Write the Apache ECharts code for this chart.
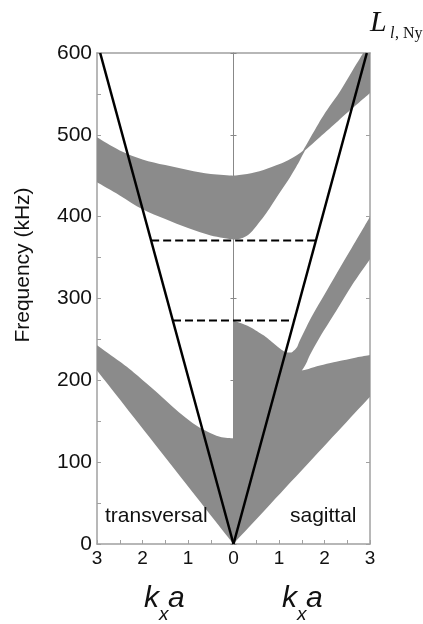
<!DOCTYPE html>
<html>
<head>
<meta charset="utf-8">
<script src="https://cdn.jsdelivr.net/npm/echarts@6/dist/echarts.min.js"></script>
<style>
html,body{margin:0;padding:0;background:#fff;}
#chart{width:423px;height:624px;}
</style>
</head>
<body>
<div id="chart"></div>
<script>
// ---- data: [kx (magnitude), frequency kHz] ----
var xTicks = [3, 2, 1, 0, 1, 2, 3];
var yTicks = [0, 100, 200, 300, 400, 500, 600];

// transversal (left half; kx plotted negative)
var transUpperBandTop = [[3,497],[2.5,481],[2.0,470],[1.5,463],[1.0,457],[0.5,452],[0,450]];
var transUpperBandBottom = [[0,372],[0.5,377],[1.0,386],[1.5,397],[2.0,409],[2.5,426],[3,442]];
var transLowerBandTop = [[3,243],[2.5,223],[2.2,210],[1.8,191],[1.5,176],[1.2,161],[0.9,148],[0.6,138],[0.3,131],[0,129]];
var transLowerBandBottom = [[0,0],[3,212]];

// sagittal (right half)
var sagUpperTopA = [[0,450],[0.3,452],[0.66,457],[1.0,464],[1.2,469],[1.39,475],[1.53,481]];
var sagUpperTopB = [[1.53,481],[1.87,514],[2.1,534],[2.34,553],[2.6,577],[2.85,600]];
var sagUpperCorner = [[3,600],[3,551]];
var sagUpperBottomB = [[3,551],[2.3,517],[1.57,481]];
var sagUpperBottomA = [[1.57,481],[1.4,463],[1.24,448],[1.0,428],[0.73,405],[0.55,392],[0.37,380],[0.2,374],[0,372]];

var sagLowerBase = [[0,0],[3,180]];
var sagLowerTopRight = [[3,231],[2.7,228],[2.41,224.5],[2.2,222],[1.9,218],[1.65,214],[1.5,212]];
var sagDiagLower = [[1.5,212],[1.55,216],[1.61,222],[1.68,231],[1.9,253],[2.27,286],[2.6,316],[3,348]];
var sagDiagUpper = [[3,400],[2.6,362],[2.27,331],[2.0,305],[1.76,282],[1.6,265],[1.46,249],[1.39,240],[1.3,235],[1.24,234],
  [1.13,235],[1.02,239],[0.8,249],[0.66,255],[0.37,265],[0.15,270],[0,273]];

// light lines L_{l,Ny}
var leftLightLine = [[-2.93,600],[0,0]];
var rightLightLine = [[0,0],[2.93,600]];
// dashed gap markers
var upperGapLine = [[-1.81,371],[1.81,371]];
var lowerGapLine = [[-1.33,273],[1.33,273]];

// ---- build ----
function neg(arr){ return arr.map(function(p){ return [-p[0], p[1]]; }); }
var regions = [
  [neg(transUpperBandTop), neg(transUpperBandBottom)],
  [neg(transLowerBandTop), neg(transLowerBandBottom)],
  [sagUpperTopA, sagUpperTopB, sagUpperCorner, sagUpperBottomB, sagUpperBottomA],
  [sagLowerBase, sagLowerTopRight, sagDiagLower, sagDiagUpper]
];

var FILL = '#8b8b8b';
var AXIS = '#a0a0a0';
var FONT = "'Liberation Sans', Arial, Helvetica, sans-serif";

// smooth (Catmull-Rom -> cubic Bezier) path through each edge's projected points
function edgesToPath(edges, api){
  var d = '';
  edges.forEach(function(edge, ei){
    var P = edge.map(function(p){ return api.coord(p); });
    d += (ei === 0 ? 'M' : 'L') + P[0][0].toFixed(2) + ' ' + P[0][1].toFixed(2) + ' ';
    for (var i = 0; i < P.length - 1; i++){
      var p0 = P[i - 1] || P[i], p1 = P[i], p2 = P[i + 1], p3 = P[i + 2] || P[i + 1];
      var c1x = p1[0] + (p2[0] - p0[0]) / 6, c1y = p1[1] + (p2[1] - p0[1]) / 6;
      var c2x = p2[0] - (p3[0] - p1[0]) / 6, c2y = p2[1] - (p3[1] - p1[1]) / 6;
      d += 'C' + c1x.toFixed(2) + ' ' + c1y.toFixed(2) + ' ' + c2x.toFixed(2) + ' ' + c2y.toFixed(2) + ' ' + p2[0].toFixed(2) + ' ' + p2[1].toFixed(2) + ' ';
    }
  });
  return d + 'Z';
}

function regionSeries(edges){
  return {
    type: 'custom', xAxisIndex: 0, yAxisIndex: 0, z: 1, silent: true,
    data: [[edges[0][0][0], edges[0][0][1]]],
    renderItem: function(params, api){
      return {
        type: 'path',
        shape: { pathData: edgesToPath(edges, api) },
        style: { fill: FILL, stroke: null }
      };
    }
  };
}

var series = regions.map(regionSeries);
function lineSeries(d, dashed){
  return {
    type: 'line', xAxisIndex: 0, yAxisIndex: 0, z: 5, silent: true,
    data: d, symbol: 'none', animation: false,
    lineStyle: { color: '#000', width: dashed ? 2 : 2.5, type: dashed ? [8,4] : 'solid' }
  };
}
series.push(lineSeries(leftLightLine, false));
series.push(lineSeries(rightLightLine, false));
series.push(lineSeries(upperGapLine, true));
series.push(lineSeries(lowerGapLine, true));

var chart = echarts.init(document.getElementById('chart'), null, {renderer: 'canvas'});
chart.setOption({
  animation: false,
  backgroundColor: '#fff',
  grid: { left: 97, right: 53, top: 53, bottom: 80, containLabel: false },
  xAxis: [
    {
      type: 'value', min: -3, max: 3, interval: 0.5, position: 'bottom',
      axisLine: { onZero: false, lineStyle: { color: AXIS, width: 1.5 } },
      axisTick: { inside: true, length: 4, lineStyle: { color: AXIS } },
      splitLine: { show: false },
      axisLabel: {
        color: '#111', fontSize: 19, fontFamily: FONT, margin: 5,
        formatter: function(v){
          var a = Math.abs(v);
          if (a % 1 !== 0) return '';
          var i = xTicks.indexOf(a);
          return i >= 0 ? String(xTicks[i]) : '';
        }
      }
    },
    {
      type: 'value', min: -3, max: 3, position: 'top',
      axisLine: { onZero: false, lineStyle: { color: AXIS, width: 1.5 } },
      axisTick: { show: false }, axisLabel: { show: false }, splitLine: { show: false }
    }
  ],
  yAxis: [
    {
      type: 'value', min: 0, max: 600, interval: 50, position: 'left',
      axisLine: { show: true, onZero: false, lineStyle: { color: AXIS, width: 1.5 } },
      axisTick: { inside: true, length: 4, lineStyle: { color: AXIS } },
      splitLine: { show: false },
      axisLabel: {
        color: '#111', fontSize: 21, fontFamily: FONT, margin: 5,
        formatter: function(v){ return yTicks.indexOf(v) >= 0 ? String(v) : ''; }
      }
    },
    {
      type: 'value', min: 0, max: 600, interval: 100, position: 'right',
      axisLine: { show: true, onZero: false, lineStyle: { color: AXIS, width: 1.5 } },
      axisTick: { inside: true, length: 4, lineStyle: { color: AXIS } },
      axisLabel: { show: false }, splitLine: { show: false }
    },
    {
      type: 'value', min: 0, max: 600, interval: 100, position: 'left',
      axisLine: { show: true, onZero: true, onZeroAxisIndex: 0, lineStyle: { color: '#888', width: 1 } },
      axisTick: { inside: true, length: 3, lineStyle: { color: '#888' } },
      axisLabel: { show: false }, splitLine: { show: false }
    },
    {
      type: 'value', min: 0, max: 600, interval: 100, position: 'left',
      axisLine: { show: true, onZero: true, onZeroAxisIndex: 0, lineStyle: { color: '#888', width: 1 } },
      axisTick: { inside: false, length: 3, lineStyle: { color: '#888' } },
      axisLabel: { show: false }, splitLine: { show: false }
    }
  ],
  graphic: [
    { type: 'text', z: 10, x: 23, y: 265, rotation: Math.PI / 2,
      style: { x: 0, y: 0, text: 'Frequency (kHz)', font: '21px ' + FONT, fill: '#111', textAlign: 'center', textVerticalAlign: 'middle' } },
    { type: 'text', z: 10, style: { x: 105, y: 527, text: 'transversal', font: '21px ' + FONT, fill: '#111', textVerticalAlign: 'bottom' } },
    { type: 'text', z: 10, style: { x: 290, y: 527, text: 'sagittal', font: '21px ' + FONT, fill: '#111', textVerticalAlign: 'bottom' } },
    { type: 'text', z: 10, style: { x: 144, y: 614, text: 'k', font: 'italic 30px ' + FONT, fill: '#111', textVerticalAlign: 'bottom' } },
    { type: 'text', z: 10, style: { x: 159, y: 624, text: 'x', font: 'italic 19px ' + FONT, fill: '#111', textVerticalAlign: 'bottom' } },
    { type: 'text', z: 10, style: { x: 168, y: 614, text: 'a', font: 'italic 30px ' + FONT, fill: '#111', textVerticalAlign: 'bottom' } },
    { type: 'text', z: 10, style: { x: 282, y: 614, text: 'k', font: 'italic 30px ' + FONT, fill: '#111', textVerticalAlign: 'bottom' } },
    { type: 'text', z: 10, style: { x: 297, y: 624, text: 'x', font: 'italic 19px ' + FONT, fill: '#111', textVerticalAlign: 'bottom' } },
    { type: 'text', z: 10, style: { x: 306, y: 614, text: 'a', font: 'italic 30px ' + FONT, fill: '#111', textVerticalAlign: 'bottom' } },
    { type: 'text', z: 10, style: { x: 370, y: 38, text: 'L', font: 'italic 30px "Liberation Serif", "Times New Roman", serif', fill: '#111', textVerticalAlign: 'bottom' } },
    { type: 'text', z: 10, style: { x: 390, y: 42, text: 'l', font: 'italic 16px "Liberation Serif", "Times New Roman", serif', fill: '#111', textVerticalAlign: 'bottom' } },
    { type: 'text', z: 10, style: { x: 395, y: 42, text: ', Ny', font: '16px "Liberation Serif", "Times New Roman", serif', fill: '#111', textVerticalAlign: 'bottom' } }
  ],
  series: series
});
</script>
</body>
</html>
